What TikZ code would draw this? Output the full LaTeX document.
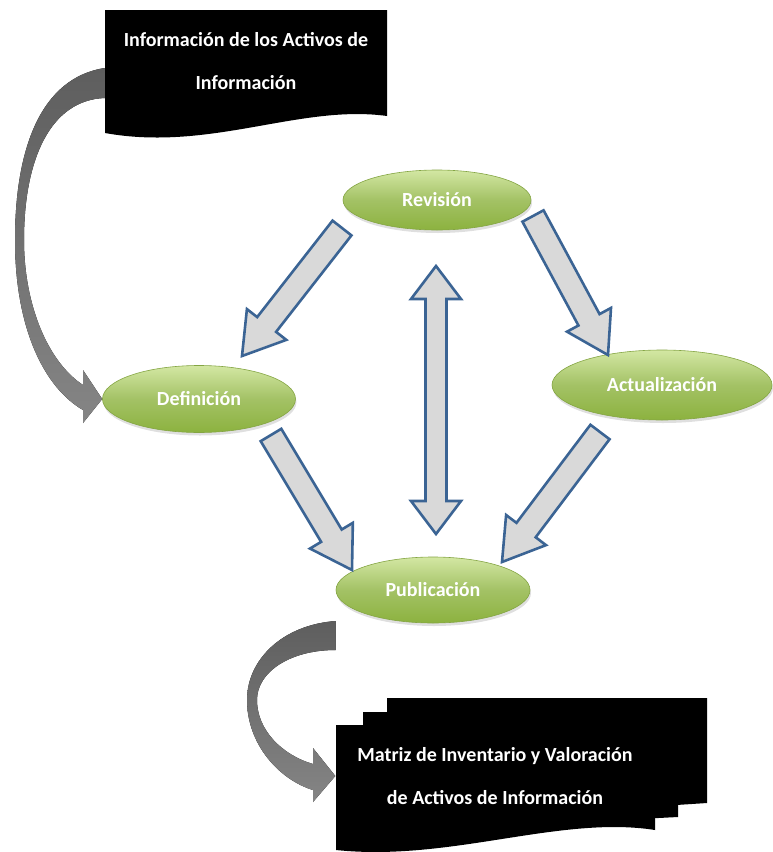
\documentclass[tikz,border=0pt]{standalone}
\usepackage{fontspec}
\setmainfont{Carlito}
\usepackage{xcolor}
\definecolor{hoja}{HTML}{93B74A}
\definecolor{hojaclara}{HTML}{D3E7A3}
\definecolor{hojaosc}{HTML}{8CB23F}
\definecolor{acero}{HTML}{3B6494}
\definecolor{relleno}{HTML}{D9D9D9}
\definecolor{humo}{HTML}{858585}
\definecolor{humoosc}{HTML}{5E5E5E}
\usepackage{tikz}
\usetikzlibrary{calc,shapes.geometric,shadows}
\tikzset{
  font=\bfseries\fontsize{20}{24}\selectfont,
  etapa/.style={ellipse,draw=hoja!90!black,line width=0.6pt,top color=hojaclara,
                bottom color=hojaosc,middle color=hoja!85!white,text=white,
                inner sep=0pt,drop shadow={opacity=0.25,shadow xshift=1pt,shadow yshift=-3pt}},
  flecha/.style={draw=acero,line width=2.6pt,fill=relleno,line join=miter},
  curva/.style={top color=humoosc,bottom color=humo,draw=none},
  doc/.style={fill=black,draw=none},
  tit/.style={text=white,align=center,inner sep=0pt,font=\bfseries\fontsize{20}{43}\selectfont},
}
% block arrow from tail (#1) to tip (#2)
\newcommand{\blockarrow}[2]{%
  \coordinate (bh) at ($(#2)!40pt!(#1)$);
  \draw[flecha] ($(#1)!12pt!-90:(#2)$) -- ($(bh)!12pt!90:(#1)$)
    -- ($(bh)!25pt!90:(#1)$) -- (#2) -- ($(bh)!25pt!-90:(#1)$)
    -- ($(bh)!12pt!-90:(#1)$) -- ($(#1)!12pt!90:(#2)$) -- cycle;}
% double block arrow between (#1) and (#2)
\newcommand{\dblarrow}[2]{%
  \coordinate (ha) at ($(#1)!33pt!(#2)$);
  \coordinate (hb) at ($(#2)!33pt!(#1)$);
  \draw[flecha] (#1) -- ($(ha)!25pt!90:(#2)$) -- ($(ha)!10.5pt!90:(#2)$)
    -- ($(hb)!10.5pt!-90:(#1)$) -- ($(hb)!25pt!-90:(#1)$) -- (#2)
    -- ($(hb)!25pt!90:(#1)$) -- ($(hb)!10.5pt!90:(#1)$)
    -- ($(ha)!10.5pt!-90:(#2)$) -- ($(ha)!25pt!-90:(#2)$) -- cycle;}

\begin{document}
\begin{tikzpicture}[x=1pt,y=-1pt]
  \useasboundingbox (0,0) rectangle (772,852);

  % source document
  \fill[doc] (105,10) -- (387,10) -- (387,116)
    .. controls (300,104) and (210,152) .. (105,133) -- cycle;
  \node[tit,minimum width=282pt] (fuente) at (246,61)
    {Información de los Activos de\\Información};

  % result documents (stacked)
  \fill[doc] (387,698) -- (707,698) -- (707,803) -- (600,810) -- (387,810) -- cycle;
  \fill[doc] (363,712) -- (678,712) -- (678,817) -- (580,822) -- (363,822) -- cycle;
  \fill[doc] (336,725) -- (655,725) -- (655,830)
    .. controls (560,815) and (450,862) .. (336,850) -- cycle;
  \node[tit,minimum width=319pt] (matriz) at (495,776)
    {Matriz de Inventario y Valoración\\de Activos de Información};

  % cycle stages
  \node[etapa,minimum width=188pt,minimum height=60pt] (rev) at (437,200) {Revisión};
  \node[etapa,minimum width=193pt,minimum height=67pt] (def) at (199,399) {Definición};
  \node[etapa,minimum width=220pt,minimum height=70pt] (act) at (662,385) {Actualización};
  \node[etapa,minimum width=194pt,minimum height=66pt] (pub) at (433,590) {Publicación};

  % arrow ends
  \coordinate (rd1) at (342,228);  \coordinate (rd2) at (242,356);
  \coordinate (ra1) at (533,216);  \coordinate (ra2) at (608,355);
  \coordinate (dp1) at (271,435);  \coordinate (dp2) at (352,570);
  \coordinate (ap1) at (600,432);  \coordinate (ap2) at (502,562);
  \coordinate (rp1) at (436,266);  \coordinate (rp2) at (436,534);

  \blockarrow{rd1}{rd2}
  \blockarrow{ra1}{ra2}
  \blockarrow{dp1}{dp2}
  \blockarrow{ap1}{ap2}
  \dblarrow{rp1}{rp2}

  % curved grey arrows
  \fill[curva] (fuente.west |- 0,68) .. controls (40,78) and (15,150) .. (15,240)
    .. controls (15,330) and (45,388) .. (83,410) -- (83,423) -- (def.west)
    -- (83,370) -- (83,385) .. controls (48,362) and (24,305) .. (24,240)
    .. controls (24,160) and (50,100) .. (fuente.west |- 0,98) -- cycle;
  \fill[curva] (pub.west |- 0,621) .. controls (282,625) and (247,660) .. (247,700)
    .. controls (247,745) and (280,780) .. (313,790) -- (313,802) -- (matriz.west |- 0,776)
    -- (313,748) -- (313,764) .. controls (282,755) and (257,730) .. (257,700)
    .. controls (257,672) and (290,650) .. (pub.west |- 0,650) -- cycle;
\end{tikzpicture}
\end{document}
